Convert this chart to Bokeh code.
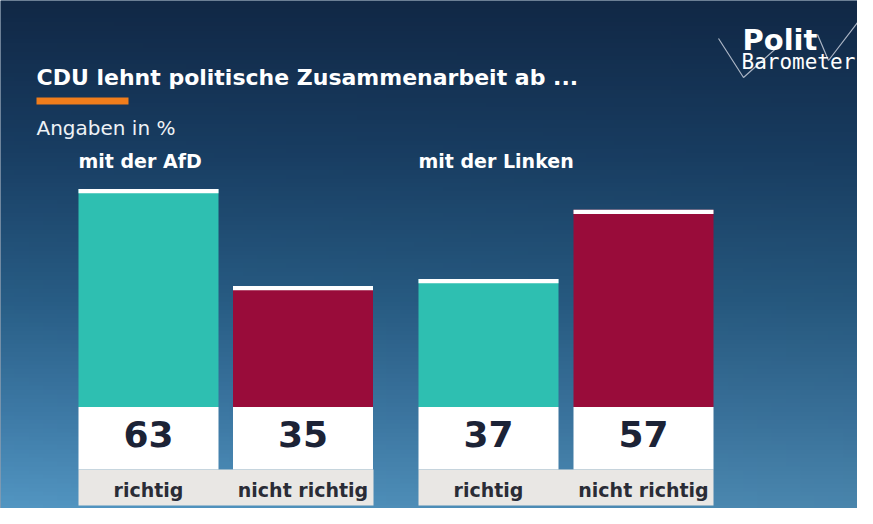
import numpy as np
from bokeh.plotting import figure
from bokeh.models import Range1d
from bokeh.core.properties import value
from bokeh.embed import file_html
from bokeh.resources import INLINE

# ---- data ----
title_text = "CDU lehnt politische Zusammenarbeit ab ..."
subtitle_text = "Angaben in %"
groups = ["mit der AfD", "mit der Linken"]
answers = ["richtig", "nicht richtig"]
afd_values = [63, 35]
linke_values = [37, 57]

# ---- layout helpers (pixel -> data) ----
K = 3.46          # px per percent
BASE = 406.5      # pixel y of the 0 line
def Y(py):
    return (BASE - py) / K

W, H = 857, 508
p = figure(width=W, height=H, output_backend="svg", toolbar_location=None,
           x_range=Range1d(0, W), y_range=Range1d(Y(H), Y(0)),
           min_border=0)
p.axis.visible = False
p.grid.visible = False
p.outline_line_color = None
p.background_fill_color = "#1a3c62"
p.border_fill_color = "#1a3c62"

# ---- background gradient ----
ny, nx = 120, 60
ys = np.linspace(0, H, ny)
stops_y = [0, 150, 300, 420, 524]
stops_c = np.array([[17, 40, 70], [24, 60, 96], [38, 88, 126], [58, 114, 155], [78, 140, 180]], float)
col = np.stack([np.interp(ys, stops_y, stops_c[:, k]) for k in range(3)], axis=1)
xs = np.linspace(0, 1, nx)
img = np.zeros((ny, nx), dtype=np.uint32)
view = img.view(dtype=np.uint8).reshape((ny, nx, 4))
for i in range(ny):
    t = ys[i] / H
    shade = 1 + 0.10 * t * (1 - xs) - 0.02 * t * xs
    for k in range(3):
        view[i, :, k] = np.clip(col[i, k] * shade, 0, 255)
    view[i, :, 3] = 255
img = img[::-1]  # image rows go bottom->top
p.image_rgba(image=[img], x=0, y=Y(H), dw=W, dh=Y(0) - Y(H))

# ---- bars ----
centers = [148, 302.5, 488, 643]
bar_w = 140
vals = afd_values + linke_values
colors = ["#2ebfb1", "#990c3a", "#2ebfb1", "#990c3a"]
p.vbar(x=centers, width=bar_w, bottom=0, top=vals, fill_color=colors, line_color=None)
cap = 4.3 / K
p.vbar(x=centers, width=bar_w, bottom=[v - cap for v in vals], top=vals,
       fill_color="white", line_color=None)

# white value boxes
p.vbar(x=centers, width=bar_w, bottom=Y(469), top=0, fill_color="white", line_color=None)
# grey label strips, one per group
p.vbar(x=[225.5, 565.5], width=295, bottom=Y(505), top=Y(469),
       fill_color="#e9e7e4", line_color=None)

font = value("DejaVu Sans")
p.text(x=centers, y=[Y(433)] * 4, text=[str(v) for v in vals],
       text_font=font, text_font_style="bold", text_font_size="36px",
       text_color="#1c2336", text_align="center", text_baseline="middle")
p.text(x=centers, y=[Y(489)] * 4, text=answers * 2,
       text_font=font, text_font_style="bold", text_font_size="19px",
       text_color="#2a2c36", text_align="center", text_baseline="middle")

# group labels
p.text(x=[78, 418], y=[Y(160)] * 2, text=groups, text_font=font,
       text_font_style="bold", text_font_size="19px", text_color="white",
       text_align="left", text_baseline="alphabetic")

# title, accent line, subtitle
p.text(x=[36], y=[Y(77)], text=[title_text], text_font=font, text_font_style="bold",
       text_font_size="22px", text_color="white", text_baseline="alphabetic")
p.quad(left=36, right=128, bottom=Y(104), top=Y(97), fill_color="#f07d1c", line_color=None)
p.text(x=[36], y=[Y(127)], text=[subtitle_text], text_font=font,
       text_font_size="20px", text_color="#eef2f6", text_baseline="alphabetic")

# logo (shifted slightly left to fit the frame)
dx = -9
p.line(x=[727 + dx, 752 + dx, 790 + dx], y=[Y(38), Y(77), Y(43)], line_color="#aab4c4", line_width=1.2)
p.line(x=[826 + dx, 837 + dx, 866 + dx], y=[Y(34), Y(60), Y(22)], line_color="#aab4c4", line_width=1.2)
p.text(x=[751 + dx], y=[Y(39)], text=["Polit"], text_font=font, text_font_style="bold",
       text_font_size="29px", text_color="white", text_baseline="alphabetic")
p.text(x=[750 + dx], y=[Y(61)], text=["Barometer"], text_font=value("DejaVu Sans Mono"),
       text_font_size="21px", text_color="white", text_baseline="alphabetic")

open("out.html", "w").write(file_html(p, INLINE))
